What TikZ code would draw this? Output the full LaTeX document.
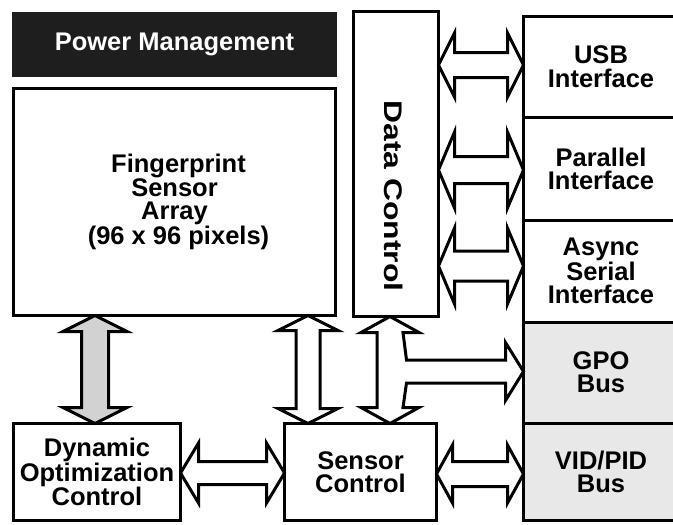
\documentclass[tikz,border=0pt]{standalone}
\usepackage{fontspec}
\setmainfont{Liberation Sans}
\usetikzlibrary{calc}
\newcommand\labelfont{\fontsize{25.5}{23.2}\selectfont\bfseries}
\definecolor{pmdark}{RGB}{30,30,30}
\tikzset{
  box/.style={draw=black, line width=3pt, fill=white, inner sep=0pt, outer sep=0pt,
    align=center, font=\labelfont, anchor=north west},
  speckle/.style={fill=gray!18},
  barrow/.style={draw=black, line width=3pt, fill=white, line join=miter},
}
% horizontal double block arrow: #2 left tip, #3 right tip, #4 head length, #5 half head, #6 half shaft
\newcommand\HArr[6][]{%
  \draw[barrow,#1] (#2) -- ($(#2)+(#4,-#5)$) -- ($(#2)+(#4,-#6)$) -- ($(#3)+(-#4,-#6)$)
   -- ($(#3)+(-#4,-#5)$) -- (#3) -- ($(#3)+(-#4,#5)$) -- ($(#3)+(-#4,#6)$)
   -- ($(#2)+(#4,#6)$) -- ($(#2)+(#4,#5)$) -- cycle;}
% vertical double block arrow: #2 top tip, #3 bottom tip
\newcommand\VArr[6][]{%
  \draw[barrow,#1] (#2) -- ($(#2)+(#5,#4)$) -- ($(#2)+(#6,#4)$) -- ($(#3)+(#6,-#4)$)
   -- ($(#3)+(#5,-#4)$) -- (#3) -- ($(#3)+(-#5,-#4)$) -- ($(#3)+(-#6,-#4)$)
   -- ($(#2)+(-#6,#4)$) -- ($(#2)+(-#5,#4)$) -- cycle;}
\begin{document}
\begin{tikzpicture}[x=1pt,y=-1pt]
\useasboundingbox (0,0) rectangle (673,525);
\clip (0,0) rectangle (673,525);

% boxes
\node[box, fill=pmdark, draw=none, text=white, minimum width=325pt, minimum height=65pt]
  (pm) at (12,12) {Power Management};
\node[box, minimum width=322pt, minimum height=227pt] (fp) at (13.5,88.5)
  {\hspace*{8pt}Fingerprint\\Sensor\\Array\\\hspace*{8pt}(96 x 96 pixels)};
\node[box, minimum width=85pt, minimum height=305pt] (dc) at (353.5,11.5) {};
\node[font=\labelfont, rotate=-90, inner sep=0pt] (dctext) at (394,196)
  {\scalebox{1.25}[1]{Data Control}};

\node[box, minimum width=155pt, minimum height=100.5pt] (usb) at (523.5,16.5) {USB\\Interface};
\node[box, minimum width=155pt, minimum height=103pt] (par) at (523.5,117) {Parallel\\Interface};
\node[box, minimum width=155pt, minimum height=102pt] (asy) at (523.5,220) {Async\\Serial\\Interface};
\node[box, speckle, minimum width=155pt, minimum height=101pt] (gpo) at (523.5,322) {GPO\\Bus};
\node[box, speckle, minimum width=155pt, minimum height=97.5pt] (vid) at (523.5,423) {VID/PID\\Bus};

\node[box, minimum width=167pt, minimum height=97pt] (doc) at (13.5,423.5)
  {Dynamic\\Optimization\\Control};
\node[box, minimum width=152pt, minimum height=97pt] (sc) at (284.5,423.5) {Sensor\\Control};

% block arrows
\coordinate (a1t) at (fp.south -| 95,0);
\coordinate (a1b) at (doc.north -| 95,0);
\VArr[fill=gray!35]{a1t}{a1b}{16}{32}{13.5}

\coordinate (a2t) at (fp.south -| 308,0);
\coordinate (a2b) at (sc.north -| 308,0);
\VArr{a2t}{a2b}{15}{30}{12}

% T-shaped arrow Data Control / Sensor Control / GPO Bus
\coordinate (tt) at (dc.south -| 390,0);
\coordinate (tb) at (sc.north -| 390,0);
\coordinate (tg) at (gpo.west |- 0,371.5);
\draw[barrow] (tt) -- ($(tt)+(29,16)$) -- ($(tt)+(13,16)$) -- ($(tg)+(-117,-11.5)$)
  -- ($(tg)+(-18,-11.5)$) -- ($(tg)+(-18,-29)$) -- (tg) -- ($(tg)+(-18,29)$)
  -- ($(tg)+(-18,11.5)$) -- ($(tg)+(-117,11.5)$) -- ($(tb)+(13,-16)$)
  -- ($(tb)+(29,-16)$) -- (tb) -- ($(tb)+(-29,-16)$) -- ($(tb)+(-13,-16)$)
  -- ($(tt)+(-13,16)$) -- ($(tt)+(-29,16)$) -- cycle;

\coordinate (a4l) at (doc.east |- 0,473);
\coordinate (a4r) at (sc.west |- 0,473);
\HArr{a4l}{a4r}{18}{30}{11.5}

\coordinate (a5l) at (sc.east |- 0,474);
\coordinate (a5r) at (vid.west |- 0,474);
\HArr{a5l}{a5r}{16}{29}{12.5}

\coordinate (a6l) at (dc.east |- 0,65);
\coordinate (a6r) at (usb.west |- 0,65);
\HArr{a6l}{a6r}{16}{32}{12.5}

\coordinate (a7l) at (dc.east |- 0,170);
\coordinate (a7r) at (par.west |- 0,170);
\HArr{a7l}{a7r}{16}{38}{13.5}

\coordinate (a8l) at (dc.east |- 0,266);
\coordinate (a8r) at (asy.west |- 0,266);
\HArr{a8l}{a8r}{16}{38}{15}
\end{tikzpicture}
\end{document}
